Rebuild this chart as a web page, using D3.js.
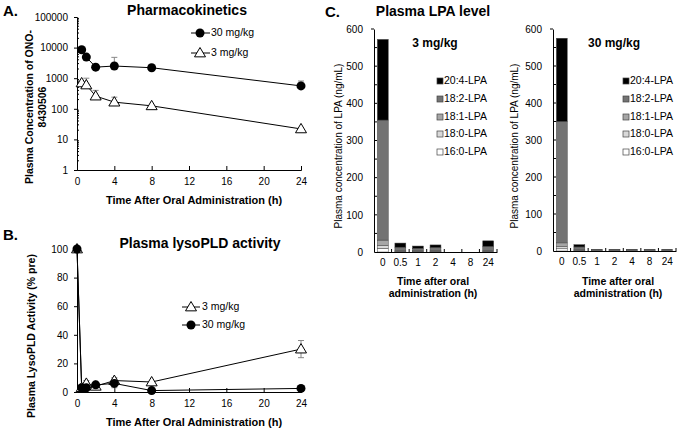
<!DOCTYPE html>
<html><head><meta charset="utf-8">
<script src="https://cdn.jsdelivr.net/npm/d3@7"></script>
<style>
body{margin:0;background:#fff;}
svg{display:block;font-family:"Liberation Sans",Arial,sans-serif;}
.axis path,.axis line{stroke:#000;stroke-width:1;}
.axis text{font-size:10px;fill:#000;font-family:"Liberation Sans",Arial,sans-serif;}
</style></head><body>
<svg id="c" width="683" height="434"></svg>
<script>
// ---------- Data ----------
const pkTime = [0.5, 1, 2, 4, 8, 24];
const pk30 = [8500, 4900, 2300, 2500, 2200, 560];
const pk30Err = [0, 0, 0, 2300, 0, 250];
const pk3 = [700, 600, 260, 165, 125, 22];
const pk3Err = [60, 400, 140, 75, 0, 0];
const pkYTicks = [1, 10, 100, 1000, 10000, 100000];
const timeTicks = [0, 4, 8, 12, 16, 20, 24];

const ldTime = [0, 0.5, 1, 2, 4, 8, 24];
const ld3 = [100, 3, 6, 4, 8, 7, 30];
const ld3Err = [0, 0, 2, 1, 2, 0, 6];
const ld30 = [100, 3, 3, 5, 6, 1, 2.5];
const ld30Err = [0, 1, 1, 1, 3, 0, 0];
const ldYTicks = [0, 20, 40, 60, 80, 100];

const lpaCats = ["0", "0.5", "1", "2", "4", "8", "24"];
const lpaSpecies = ["16:0-LPA", "18:0-LPA", "18:1-LPA", "18:2-LPA", "20:4-LPA"];
const lpaColors = ["#ffffff", "#d9d9d9", "#a6a6a6", "#737373", "#000000"];
// per species values at each time point (3 mg/kg)
const lpa3_160 = [10, 1, 1, 1, 0, 0, 1];
const lpa3_180 = [8, 1, 1, 1, 0, 0, 1];
const lpa3_181 = [14, 2, 2, 2, 0, 0, 2];
const lpa3_182 = [323, 9, 6, 8, 0, 0, 11];
const lpa3_204 = [217, 11, 6, 7, 0, 0, 15];
// 30 mg/kg
const lpa30_160 = [6, 1, 2, 2, 2, 2, 2];
const lpa30_180 = [6, 1, 1, 1, 1, 1, 1];
const lpa30_181 = [10, 2, 1, 1, 1, 1, 1];
const lpa30_182 = [328, 7, 0, 0, 0, 0, 0];
const lpa30_204 = [225, 6, 0, 0, 0, 0, 0];
const lpaYTicks = [0, 100, 200, 300, 400, 500, 600];

// ---------- Drawing ----------
const svg = d3.select("#c");
const F = '"Liberation Sans",Arial,sans-serif';

function text(x, y, s, o = {}) {
  const t = svg.append("text").attr("x", x).attr("y", y).text(s)
    .attr("font-size", o.size || 10).attr("font-weight", o.bold ? "bold" : "normal")
    .attr("text-anchor", o.anchor || "start").attr("dominant-baseline", "middle")
    .attr("font-family", F);
  if (o.rot) t.attr("transform", `rotate(-90,${x},${y})`);
  return t;
}

function circle(g, x, y) {
  g.append("circle").attr("cx", x).attr("cy", y).attr("r", 4.5).attr("fill", "#000");
}
function tri(g, x, y) {
  const s = 5.5;
  g.append("path").attr("d", `M${x},${y - s}L${x + s},${y + s * 0.7}L${x - s},${y + s * 0.7}Z`)
    .attr("fill", "#fff").attr("stroke", "#000").attr("stroke-width", 1);
}

// ===== Panel A =====
const xA = d3.scaleLinear().domain([0, 24]).range([77, 301]);
const yA = d3.scaleLog().domain([1, 100000]).range([170, 17]);
const gA = svg.append("g");
gA.append("g").attr("class", "axis").attr("transform", "translate(77,0)")
  .call(d3.axisLeft(yA).tickValues(pkYTicks).tickFormat(d3.format("d")).tickSize(3).tickPadding(6));
// minor log ticks
const minorA = [];
for (let e = 0; e < 5; e++) for (let m = 2; m <= 9; m++) minorA.push(m * Math.pow(10, e));
gA.selectAll(".mA").data(minorA).enter().append("line")
  .attr("x1", 77).attr("x2", 79).attr("y1", d => yA(d)).attr("y2", d => yA(d)).attr("stroke", "#000");
gA.append("g").attr("class", "axis").attr("transform", "translate(0,170)")
  .call(d3.axisBottom(xA).tickValues(timeTicks).tickSize(-4).tickPadding(8));
// error bars
function errUp(g, xs, ys, es, xS, yS) {
  xs.forEach((t, i) => {
    if (!es[i]) return;
    const x = xS(t), y0 = yS(ys[i]), y1 = yS(ys[i] + es[i]);
    g.append("line").attr("x1", x).attr("x2", x).attr("y1", y0).attr("y2", y1).attr("stroke", "#888");
    g.append("line").attr("x1", x - 3).attr("x2", x + 3).attr("y1", y1).attr("y2", y1).attr("stroke", "#888");
  });
}
function errBoth(g, xs, ys, es, xS, yS) {
  xs.forEach((t, i) => {
    if (!es[i]) return;
    const x = xS(t), y0 = yS(ys[i] - es[i]), y1 = yS(ys[i] + es[i]);
    g.append("line").attr("x1", x).attr("x2", x).attr("y1", y0).attr("y2", y1).attr("stroke", "#888");
    [y0, y1].forEach(yy => g.append("line").attr("x1", x - 3).attr("x2", x + 3).attr("y1", yy).attr("y2", yy).attr("stroke", "#888"));
  });
}
errUp(gA, pkTime, pk30, pk30Err, xA, yA);
errUp(gA, pkTime, pk3, pk3Err, xA, yA);
const lineA = (ys) => d3.line().x((d, i) => xA(pkTime[i])).y(d => yA(d))(ys);
gA.append("path").attr("d", lineA(pk30)).attr("fill", "none").attr("stroke", "#000");
gA.append("path").attr("d", lineA(pk3)).attr("fill", "none").attr("stroke", "#000");
pk30.forEach((v, i) => circle(gA, xA(pkTime[i]), yA(v)));
pk3.forEach((v, i) => tri(gA, xA(pkTime[i]), yA(v)));
// legend A
gA.append("line").attr("x1", 191).attr("x2", 210).attr("y1", 33).attr("y2", 33).attr("stroke", "#000");
circle(gA, 200, 33);
text(211, 33, "30 mg/kg", { size: 10.5 });
gA.append("line").attr("x1", 191).attr("x2", 210).attr("y1", 53).attr("y2", 53).attr("stroke", "#000");
tri(gA, 200, 53);
text(211, 53, "3 mg/kg", { size: 10.5 });
text(3, 12, "A.", { size: 15, bold: true });
text(187, 11, "Pharmacokinetics", { size: 14, bold: true, anchor: "middle" });
text(30, 107, "Plasma Concentration of ONO-", { size: 10.5, bold: true, anchor: "middle", rot: true });
text(43, 107, "8430506", { size: 10.5, bold: true, anchor: "middle", rot: true });
text(194, 201, "Time After Oral Administration (h)", { size: 11, bold: true, anchor: "middle" });

// ===== Panel B =====
const xB = d3.scaleLinear().domain([0, 24]).range([77, 301]);
const yB = d3.scaleLinear().domain([0, 100]).range([392, 249]);
const gB = svg.append("g");
gB.append("g").attr("class", "axis").attr("transform", "translate(77,0)")
  .call(d3.axisLeft(yB).tickValues(ldYTicks).tickSize(3).tickPadding(6));
gB.append("g").attr("class", "axis").attr("transform", "translate(0,392)")
  .call(d3.axisBottom(xB).tickValues(timeTicks).tickSize(-4).tickPadding(8));
errBoth(gB, ldTime, ld3, ld3Err, xB, yB);
errBoth(gB, ldTime, ld30, ld30Err, xB, yB);
const lineB = (ys) => d3.line().x((d, i) => xB(ldTime[i])).y(d => yB(d))(ys);
gB.append("path").attr("d", lineB(ld3)).attr("fill", "none").attr("stroke", "#000");
gB.append("path").attr("d", lineB(ld30)).attr("fill", "none").attr("stroke", "#000");
ld3.forEach((v, i) => tri(gB, xB(ldTime[i]), yB(v)));
ld30.forEach((v, i) => circle(gB, xB(ldTime[i]), yB(v)));
gB.append("line").attr("x1", 182).attr("x2", 200).attr("y1", 307).attr("y2", 307).attr("stroke", "#000");
tri(gB, 191, 307);
text(202, 307, "3 mg/kg", { size: 10.5 });
gB.append("line").attr("x1", 182).attr("x2", 200).attr("y1", 325).attr("y2", 325).attr("stroke", "#000");
circle(gB, 191, 325);
text(202, 325, "30 mg/kg", { size: 10.5 });
text(3, 236, "B.", { size: 15, bold: true });
text(200, 244, "Plasma lysoPLD activity", { size: 14, bold: true, anchor: "middle" });
text(32, 336, "Plasma LysoPLD Activity (% pre)", { size: 10.5, bold: true, anchor: "middle", rot: true });
text(194, 423, "Time After Oral Administration (h)", { size: 11, bold: true, anchor: "middle" });

// ===== Panel C =====
function lpaPanel(x0, x1, yTop, yBot, series, dose, legX, doseX, yTitleX, xTitleX) {
  const g = svg.append("g");
  const x = d3.scaleBand().domain(lpaCats).range([x0, x1]).paddingInner(0.38).paddingOuter(0.19);
  const y = d3.scaleLinear().domain([0, 600]).range([yBot, yTop]);
  const rows = lpaCats.map((c, i) => {
    const r = { cat: c };
    lpaSpecies.forEach((s, k) => r[s] = series[k][i]);
    return r;
  });
  const stack = d3.stack().keys(lpaSpecies)(rows);
  stack.forEach((layer, k) => {
    g.selectAll(null).data(layer.filter(d => d[1] > d[0])).enter().append("rect")
      .attr("x", d => x(d.data.cat)).attr("width", x.bandwidth())
      .attr("y", d => y(d[1])).attr("height", d => y(d[0]) - y(d[1]))
      .attr("fill", lpaColors[k]).attr("stroke", "#444").attr("stroke-width", 0.5);
  });
  g.append("g").attr("class", "axis").attr("transform", `translate(${x0},0)`)
    .call(d3.axisLeft(y).tickValues(lpaYTicks).tickSize(0).tickPadding(11));
  g.selectAll(null).data(d3.range(50, 600, 50)).enter().append("line")
    .attr("x1", x0).attr("x2", x0 + 3).attr("y1", d => y(d)).attr("y2", d => y(d)).attr("stroke", "#000");
  g.append("line").attr("x1", x0 - 3).attr("x2", x0).attr("y1", yTop).attr("y2", yTop).attr("stroke", "#000");
  g.append("g").attr("class", "axis").attr("transform", `translate(0,${yBot})`)
    .call(d3.axisBottom(x).tickSize(0).tickPadding(7));
  g.selectAll(null).data(lpaCats).enter().append("line")
    .attr("x1", (d, i) => x(lpaCats[i]) + x.bandwidth() + x.step() * 0.19)
    .attr("x2", (d, i) => x(lpaCats[i]) + x.bandwidth() + x.step() * 0.19)
    .attr("y1", yBot).attr("y2", yBot - 3).attr("stroke", "#000");
  // legend
  const legY = [152, 134, 117, 99, 81];
  lpaSpecies.forEach((s, k) => {
    g.append("rect").attr("x", legX).attr("y", legY[k] - 3).attr("width", 6).attr("height", 6)
      .attr("fill", lpaColors[k]).attr("stroke", "#444").attr("stroke-width", 0.7);
    text(legX + 7, legY[k], s, { size: 10.5 });
  });
  text(doseX, 44, dose, { size: 12, bold: true, anchor: "middle" });
  text(yTitleX, 146, "Plasma concentration of LPA  (ng/mL)", { size: 10, anchor: "middle", rot: true });
  text(xTitleX, 282, "Time after oral", { size: 10.5, bold: true, anchor: "middle" });
  text(xTitleX, 294, "administration (h)", { size: 10.5, bold: true, anchor: "middle" });
}
lpaPanel(374, 497, 29, 252, [lpa3_160, lpa3_180, lpa3_181, lpa3_182, lpa3_204], "3 mg/kg", 437, 435, 339, 433);
lpaPanel(553, 676, 29, 251, [lpa30_160, lpa30_180, lpa30_181, lpa30_182, lpa30_204], "30 mg/kg", 623, 614, 515, 618);
text(325, 13, "C.", { size: 15, bold: true });
text(433, 12, "Plasma LPA level", { size: 14, bold: true, anchor: "middle" });
</script>
</body></html>
